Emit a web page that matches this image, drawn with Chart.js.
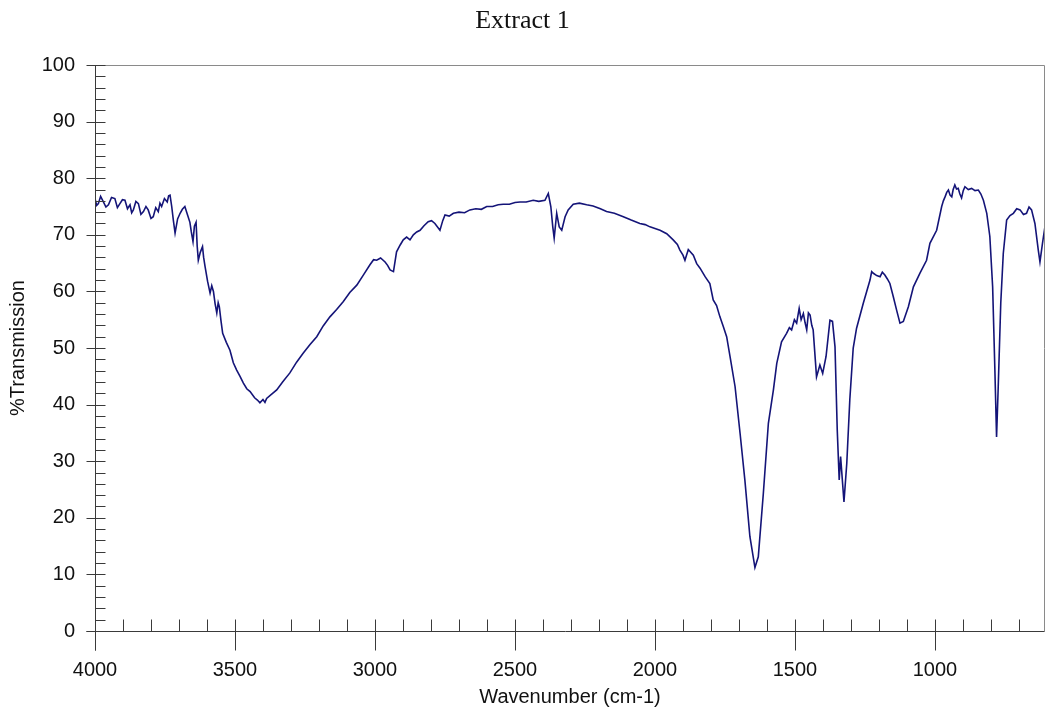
<!DOCTYPE html>
<html>
<head>
<meta charset="utf-8">
<script src="https://cdn.jsdelivr.net/npm/chart.js@4/dist/chart.umd.min.js"></script>
<style>
html,body{margin:0;padding:0;background:#fff;}
canvas{display:block;}
</style>
</head>
<body>
<canvas id="c" width="1047" height="713"></canvas>
<script>
// ---- data ----
const wavenumbers = [
  4000,3994,3988,3980,3970,3961,3952,3941,3929,3920,3911,3902,3893,3884,3875,3869,3863,3854,3845,3836,
  3827,3818,3810,3800,3792,3783,3774,3768,3762,3752,3742,3737,3732,3726,3720,3714,3705,3696,3688,3679,
  3670,3661,3656,3650,3645,3639,3635,3631,3624,3616,3612,3607,3598,3589,3583,3577,3571,3565,3560,3556,
  3550,3544,3531,3518,3506,3494,3482,3470,3458,3446,3430,3420,3411,3400,3393,3387,3370,3351,3330,3304,
  3280,3256,3232,3208,3185,3161,3137,3113,3090,3065,3040,3018,3005,2994,2980,2964,2955,2946,2934,2923,
  2910,2899,2887,2875,2863,2851,2839,2825,2810,2798,2786,2768,2758,2750,2735,2720,2700,2680,2661,2640,
  2620,2601,2580,2560,2542,2520,2500,2482,2460,2435,2415,2393,2381,2372,2365,2360,2351,2342,2333,2321,
  2310,2292,2270,2244,2221,2195,2173,2145,2113,2085,2054,2035,2018,1982,1958,1935,1920,1911,1900,1893,
  1881,1863,1851,1839,1821,1804,1792,1780,1768,1756,1744,1732,1714,1696,1679,1661,1643,1631,1613,1595,
  1577,1565,1548,1530,1520,1512,1502,1494,1485,1478,1470,1464,1458,1452,1446,1440,1435,1423,1411,1401,
  1389,1375,1366,1357,1349,1342,1337,1325,1315,1304,1292,1280,1256,1232,1226,1220,1208,1196,1188,1179,
  1170,1161,1149,1137,1125,1113,1095,1077,1054,1030,1018,994,976,970,964,958,952,946,940,935,
  929,923,917,911,905,899,893,881,869,857,845,836,827,815,804,794,786,780,774,765,
  756,744,732,720,708,696,684,673,664,655,643,631,625,616,607
];
const transmission = [
  76.4,75.2,75.5,76.8,75.8,74.9,75.3,76.6,76.4,74.8,75.5,76.2,76.1,74.6,75.3,73.9,74.4,75.9,75.5,73.6,
  74.1,75.0,74.4,72.9,73.2,74.8,74.1,75.6,75.0,76.4,75.8,76.9,77.0,75.0,72.5,70.3,72.8,73.8,74.5,75.0,
  73.6,72.2,70.5,68.8,71.5,72.2,68.0,65.5,66.9,67.9,66.0,64.4,61.8,59.7,61.0,60.0,57.8,56.2,58.0,57.3,
  54.8,52.6,51.0,49.6,47.4,46.1,45.0,43.8,42.8,42.3,41.2,40.8,40.3,40.9,40.4,41.1,41.8,42.6,44.0,45.6,
  47.5,49.1,50.6,52.0,53.9,55.5,56.8,58.2,59.8,61.1,63.0,64.7,65.6,65.5,65.9,65.2,64.6,63.8,63.5,67.0,
  68.2,69.1,69.6,69.1,70.0,70.5,70.8,71.6,72.3,72.5,72.0,70.8,72.5,73.5,73.3,73.8,74.0,73.9,74.4,74.6,
  74.5,75.0,75.0,75.3,75.4,75.4,75.7,75.8,75.8,76.1,75.9,76.1,77.3,75.0,71.4,69.4,73.8,71.4,70.8,73.2,
  74.4,75.4,75.6,75.3,75.1,74.6,74.1,73.8,73.2,72.6,72.0,71.8,71.4,70.8,70.2,69.1,68.3,67.3,66.4,65.5,
  67.4,66.4,64.9,64.1,62.6,61.4,58.5,57.5,55.5,53.8,52.0,48.5,43.2,34.9,26.7,16.7,11.2,13.1,24.3,36.7,
  42.6,47.3,51.1,52.6,53.6,53.2,55.0,54.4,57.0,55.0,56.1,54.5,53.2,56.2,55.8,54.0,53.2,44.9,47.0,45.5,
  48.5,54.9,54.7,50.2,35.5,26.7,30.8,22.8,29.6,41.0,50.0,53.5,57.9,62.0,63.5,63.2,62.8,62.6,63.4,62.9,
  62.2,61.4,59.1,56.7,54.4,54.7,57.3,60.8,63.2,65.5,68.5,70.8,75.0,76.0,76.7,77.5,77.9,77.0,76.7,78.0,
  78.8,78.1,78.2,77.2,76.5,77.8,78.5,78.0,78.2,77.8,77.9,77.2,76.1,73.8,69.7,60.8,46.1,34.3,43.2,57.9,
  66.7,72.6,73.4,73.8,74.6,74.4,73.6,73.8,74.9,74.4,72.0,67.3,65.2,68.5,71.5
];
const xTickLabels = [4000,3500,3000,2500,2000,1500,1000];
const yTickLabels = [0,10,20,30,40,50,60,70,80,90,100];
const xMinorTicks = [3900,3800,3700,3600,3400,3300,3200,3100,2900,2800,2700,2600,2400,2300,2200,2100,1900,1800,1700,1600,1400,1300,1200,1100,900,800,700];
const yMinorTicks = [2,4,6,8,12,14,16,18,22,24,26,28,32,34,36,38,42,44,46,48,52,54,56,58,62,64,66,68,72,74,76,78,82,84,86,88,92,94,96,98];

const points = wavenumbers.map((w,i)=>({x:w, y:transmission[i]}));

const FONT = "'Liberation Sans', Arial, sans-serif";

const frameAndTicks = {
  id:'frameAndTicks',
  afterDraw(chart){
    const ctx = chart.ctx;
    const xs = chart.scales.x, ys = chart.scales.y;
    const L = Math.round(xs.left)+0.5, R = Math.round(xs.right)-0.5;
    const T = Math.round(ys.top)+0.5, B = Math.round(ys.bottom)+0.5;
    ctx.save();
    ctx.lineWidth = 1;
    ctx.strokeStyle = '#8a8a8a';
    ctx.beginPath();
    ctx.moveTo(L, T); ctx.lineTo(R, T);
    ctx.moveTo(R, T); ctx.lineTo(R, B);
    ctx.stroke();
    ctx.strokeStyle = '#3a3a3a';
    ctx.beginPath();
    ctx.moveTo(L, T); ctx.lineTo(L, B+19);
    ctx.moveTo(L-9, B); ctx.lineTo(R, B);
    yTickLabels.forEach(v=>{ const y=Math.round(ys.getPixelForValue(v))+0.5; ctx.moveTo(L-9,y); ctx.lineTo(L+10,y); });
    yMinorTicks.forEach(v=>{ const y=Math.round(ys.getPixelForValue(v))+0.5; ctx.moveTo(L,y); ctx.lineTo(L+10,y); });
    xTickLabels.forEach(v=>{ const x=Math.round(xs.getPixelForValue(v))+0.5; ctx.moveTo(x,B-12); ctx.lineTo(x,B+19); });
    xMinorTicks.forEach(v=>{ const x=Math.round(xs.getPixelForValue(v))+0.5; ctx.moveTo(x,B-12); ctx.lineTo(x,B); });
    ctx.stroke();
    ctx.restore();
  }
};

new Chart(document.getElementById('c'), {
  type:'line',
  data:{
    datasets:[{
      data: points,
      borderColor:'#141478',
      borderWidth:1.6,
      pointRadius:0,
      tension:0,
      fill:false
    }]
  },
  options:{
    responsive:false,
    animation:false,
    layout:{padding:{left:0,right:2,top:0,bottom:0}},
    plugins:{
      legend:{display:false},
      tooltip:{enabled:false},
      title:{
        display:true,
        text:'Extract 1',
        color:'#111',
        font:{family:"'Liberation Serif','Times New Roman',serif", size:26, weight:'normal', lineHeight:1.2},
        padding:{top:6,bottom:27.8}
      }
    },
    scales:{
      x:{
        type:'linear',
        reverse:true,
        min:607, max:4000,
        afterFit(s){ s.height = 82; },
        afterBuildTicks(s){ s.ticks = xTickLabels.map(v=>({value:v})); },
        grid:{display:false, drawTicks:false},
        border:{display:false},
        ticks:{color:'#111', padding:27, maxRotation:0, autoSkip:false, font:{family:FONT,size:20},
               callback:(v)=>String(v)},
        title:{display:true, text:'Wavenumber (cm-1)', color:'#111', padding:{top:0,bottom:4}, font:{family:FONT,size:20}}
      },
      y:{
        type:'linear',
        min:0, max:100,
        afterFit(s){ s.width = 95; },
        afterBuildTicks(s){ s.ticks = yTickLabels.map(v=>({value:v})); },
        grid:{display:false, drawTicks:false},
        border:{display:false},
        ticks:{color:'#111', padding:20, font:{family:FONT,size:20}, callback:(v)=>String(v)},
        title:{display:true, text:'%Transmission', color:'#111', padding:{top:6,bottom:0}, font:{family:FONT,size:20}}
      }
    }
  },
  plugins:[frameAndTicks]
});
</script>
</body>
</html>
